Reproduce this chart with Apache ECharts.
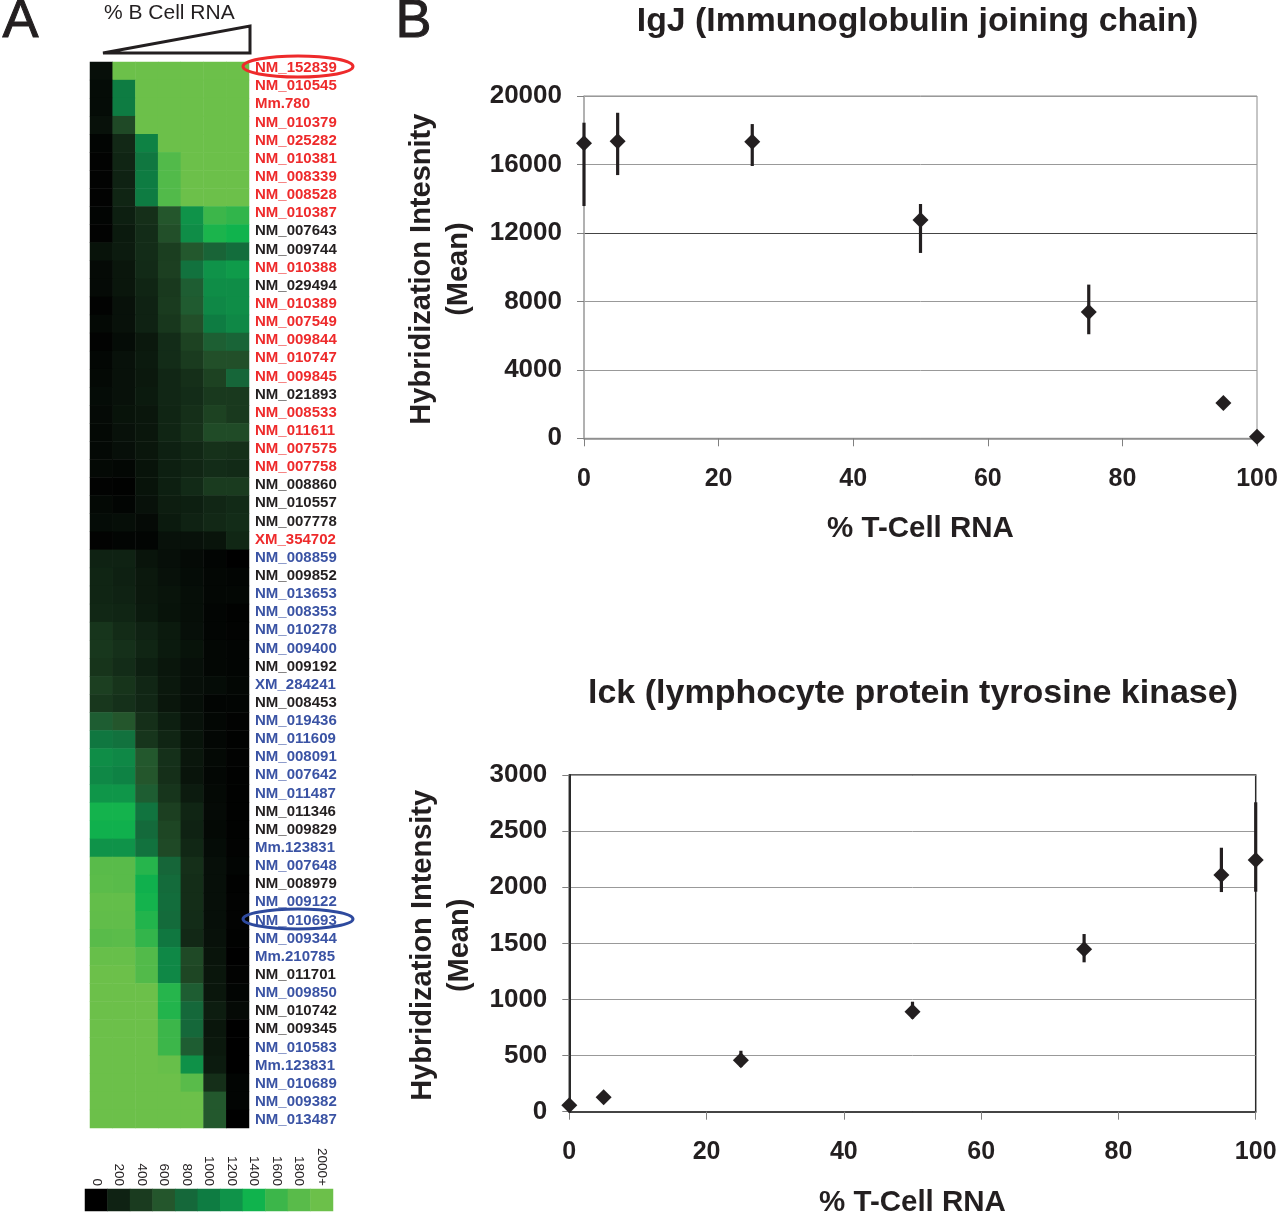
<!DOCTYPE html>
<html>
<head>
<meta charset="utf-8">
<style>html,body{margin:0;padding:0;background:#fff}#c{width:1280px;height:1213px}</style>
<script src="https://cdn.jsdelivr.net/npm/echarts@6/dist/echarts.min.js"></script>
</head>
<body>
<div id="c"></div>
<script>
// ---------- Panel A data ----------
const geneLabels = ['NM_152839','NM_010545','Mm.780','NM_010379','NM_025282','NM_010381','NM_008339','NM_008528','NM_010387','NM_007643','NM_009744','NM_010388','NM_029494','NM_010389','NM_007549','NM_009844','NM_010747','NM_009845','NM_021893','NM_008533','NM_011611','NM_007575','NM_007758','NM_008860','NM_010557','NM_007778','XM_354702','NM_008859','NM_009852','NM_013653','NM_008353','NM_010278','NM_009400','NM_009192','XM_284241','NM_008453','NM_019436','NM_011609','NM_008091','NM_007642','NM_011487','NM_011346','NM_009829','Mm.123831','NM_007648','NM_008979','NM_009122','NM_010693','NM_009344','Mm.210785','NM_011701','NM_009850','NM_010742','NM_009345','NM_010583','Mm.123831','NM_010689','NM_009382','NM_013487'];
const labelGroups = 'rrrrrrrrrkkrkrrrrrkrrrrkkkrbkbbbbkbkbbbbbkkbbkbbbbkbkkbbbbb';
const bCellLevels = ['0','5','25','50','75','95','100'];
const heatRows = [
[90,2000,2000,2000,2000,2000,2000],
[70,1000,2000,2000,2000,2000,2000],
[70,1000,2000,2000,2000,2000,2000],
[100,500,2000,2000,2000,2000,2000],
[30,250,1050,2000,2000,2000,2000],
[20,220,950,1750,2000,2000,2000],
[20,200,1000,1750,2000,2000,2000],
[20,220,1000,1750,2000,2000,2000],
[30,180,300,600,1200,1600,1550],
[20,150,280,550,1150,1450,1400],
[110,160,280,420,620,750,850],
[60,130,260,430,900,1200,1250],
[60,130,220,380,680,1150,1150],
[20,100,200,400,650,1100,1150],
[50,100,200,370,550,1000,1100],
[20,70,140,280,450,700,750],
[40,100,150,280,400,550,550],
[50,100,140,230,300,450,780],
[70,100,150,230,280,380,380],
[60,110,130,220,300,450,380],
[50,100,130,220,320,520,520],
[50,90,130,190,240,320,300],
[50,40,110,180,220,280,260],
[20,10,110,180,260,400,400],
[50,30,100,170,180,230,260],
[70,80,60,150,200,250,280],
[20,30,30,100,100,120,240],
[200,200,120,90,60,30,0],
[220,190,140,100,70,40,30],
[220,200,140,120,80,40,40],
[240,220,150,110,80,30,10],
[350,270,200,150,90,30,20],
[370,310,220,150,110,40,30],
[340,280,180,130,90,40,30],
[430,340,230,140,90,70,40],
[370,310,230,130,80,30,30],
[680,600,300,180,100,40,20],
[950,900,350,220,110,40,10],
[1150,1100,620,310,130,50,20],
[1100,1050,600,300,120,40,10],
[1220,1220,680,350,160,50,10],
[1420,1420,920,430,220,60,10],
[1380,1380,820,480,200,50,10],
[1200,1200,900,500,240,70,20],
[1800,1800,1500,780,300,90,30],
[1820,1800,1380,830,290,90,10],
[1900,1900,1420,850,290,90,20],
[1880,1880,1480,830,280,90,20],
[1800,1820,1560,950,250,100,10],
[1950,1950,1750,1100,500,120,0],
[2000,2000,1750,1100,480,130,20],
[2000,2000,2000,1500,680,130,30],
[2000,2000,2000,1480,800,170,60],
[2000,2000,2000,1600,800,130,0],
[2000,2000,2000,1600,680,140,0],
[2000,2000,2000,1950,1180,160,0],
[2000,2000,2000,2000,1800,300,30],
[2000,2000,2000,2000,2000,620,30],
[2000,2000,2000,2000,2000,620,0]
];
const scaleLabels = ['0','200','400','600','800','1000','1200','1400','1600','1800','2000+'];
const scaleValues = [0,200,400,600,800,1000,1200,1400,1600,1800,2000];
const scaleColors = ['#000000','#0f2213','#1a3b1f','#24562c','#15683a','#0e7c42','#0f9349','#10b34d','#3cb64a','#59bb4a','#6cc04a'];

// ---------- Panel B data ----------
const tCellPct = [0,5,25,50,75,95,100];
const igjMean = [17240,17350,17330,12750,7380,2060,90];
const igjHigh = [18440,19020,18360,13690,8980,2060,90];
const igjLow  = [13570,15380,15910,10830,6080,2060,90];
const lckMean = [57,128,458,891,1447,2109,2243];
const lckHigh = [57,128,543,980,1583,2352,2757];
const lckLow  = [57,128,400,830,1331,1957,1960];

const INK = '#231f20';
const FONT = '"Liberation Sans", Arial, sans-serif';
const groupColor = {r:'#ee2a2b', k:'#231f20', b:'#3a53a4'};

const heatData = [];
heatRows.forEach((row, r) => row.forEach((v, c) => heatData.push([c, r, v])));
const scaleData = scaleValues.map((v, i) => [i, 0, v]);

function errorSeries(xi, yi, low, high, width) {
  return {
    type: 'custom', xAxisIndex: xi, yAxisIndex: yi, clip: false, z: 3,
    data: tCellPct.map((x, i) => [x, low[i], high[i]]),
    encode: {x: 0, y: [1, 2]},
    renderItem(params, api) {
      const a = api.coord([api.value(0), api.value(1)]);
      const b = api.coord([api.value(0), api.value(2)]);
      return {type: 'line', shape: {x1: a[0], y1: a[1], x2: b[0], y2: b[1]},
        style: {stroke: INK, lineWidth: width, fill: null}};
    }
  };
}
function meanSeries(xi, yi, mean) {
  return {type: 'scatter', xAxisIndex: xi, yAxisIndex: yi, clip: false, z: 4,
    symbol: 'diamond', symbolSize: 16, itemStyle: {color: INK, opacity: 1},
    data: tCellPct.map((x, i) => [x, mean[i]])};
}
function xAxisPct(grid, lineColor, nameGap) {
  return {type: 'value', gridIndex: grid, min: 0, max: 100, interval: 20,
    name: '% T-Cell RNA', nameLocation: 'middle', nameGap,
    nameTextStyle: {fontFamily: FONT, fontWeight: 'bold', fontSize: 29.5, color: INK},
    axisLine: {show: true, lineStyle: {color: lineColor, width: 1.5}},
    axisTick: {show: true, length: 8, lineStyle: {color: '#808080', width: 1}},
    axisLabel: {fontFamily: FONT, fontWeight: 'bold', fontSize: 25, color: INK, margin: 28, showMinLabel: true, showMaxLabel: true},
    splitLine: {show: false}};
}
function yAxisVal(grid, max, interval, name, lineColor, lineWidth, splitColor, nameGap) {
  return {type: 'value', gridIndex: grid, min: 0, max, interval,
    name, nameLocation: 'middle', nameRotate: 90, nameGap,
    nameTextStyle: {fontFamily: FONT, fontWeight: 'bold', fontSize: 29, color: INK, lineHeight: 37, padding: [0, 4, 0, 0]},
    axisLine: {show: true, lineStyle: {color: lineColor, width: lineWidth}},
    axisTick: {show: true, length: 7, inside: false, lineStyle: {color: '#808080', width: 1}},
    axisLabel: {fontFamily: FONT, fontWeight: 'bold', fontSize: 26, color: INK, margin: 22, showMinLabel: true, showMaxLabel: true,
      formatter: v => String(v)},
    splitLine: {show: true, lineStyle: {color: splitColor, width: 1}}};
}

const option = {
  backgroundColor: '#fff',
  animation: false,
  textStyle: {fontFamily: FONT},
  title: [
    {text: 'IgJ (Immunoglobulin joining chain)', left: 912.5, top: 0, textAlign: 'center',
      textStyle: {fontFamily: FONT, fontWeight: 'bold', fontSize: 33.8, color: INK}},
    {text: 'lck (lymphocyte protein tyrosine kinase)', left: 908, top: 672, textAlign: 'center',
      textStyle: {fontFamily: FONT, fontWeight: 'bold', fontSize: 34, color: INK}}
  ],
  visualMap: {type: 'continuous', show: false, min: 0, max: 2000, seriesIndex: [0, 1],
    inRange: {color: scaleColors}},
  grid: [
    {left: 90, top: 62, width: 159, height: 1066, outerBoundsMode: 'none'},
    {left: 85, top: 1189, width: 248, height: 22, outerBoundsMode: 'none'},
    {left: 584, top: 96, width: 673, height: 342.3, show: true, backgroundColor: 'transparent', borderColor: '#8c8c8c', borderWidth: 1, outerBoundsMode: 'none'},
    {left: 569.3, top: 775, width: 686.4, height: 336.7, show: true, backgroundColor: 'transparent', borderColor: '#2a2a2a', borderWidth: 1.5, outerBoundsMode: 'none'},
    {left: 90, top: 59, width: 159, height: 1070, outerBoundsMode: 'none'}
  ],
  xAxis: [
    {type: 'category', gridIndex: 0, data: bCellLevels, show: false},
    {type: 'category', gridIndex: 1, data: scaleLabels, position: 'top',
      axisLine: {show: false}, axisTick: {show: false},
      axisLabel: {interval: 0, rotate: 90, margin: 3, fontFamily: FONT, fontSize: 13.5, color: INK, padding: [0, 0, 4, 0]}},
    xAxisPct(2, '#8c8c8c', 76),
    xAxisPct(3, '#2a2a2a', 76),
    {type: 'category', gridIndex: 4, data: bCellLevels, show: false}
  ],
  yAxis: [
    {type: 'category', gridIndex: 0, data: geneLabels, inverse: true, show: false},
    {type: 'category', gridIndex: 1, data: ['scale'], show: false},
    yAxisVal(2, 20000, 4000, 'Hybridization Intesnity\n(Mean)', '#aaaaaa', 1.5,
      ['#999999','#999999','#999999','#444444','#999999','#999999'], 107),
    yAxisVal(3, 3000, 500, 'Hybridization Intensity\n(Mean)', '#2a2a2a', 2, '#999999', 91),
    {type: 'category', gridIndex: 4, data: geneLabels, inverse: true, position: 'right',
      axisLine: {show: false}, axisTick: {show: false}, splitLine: {show: false},
      axisLabel: {interval: 0, margin: 6, fontFamily: FONT, fontSize: 15, fontWeight: 'bold',
        color: (v, i) => groupColor[labelGroups[i]]}}
  ],
  series: [
    {type: 'heatmap', xAxisIndex: 0, yAxisIndex: 0, data: heatData, itemStyle: {borderWidth: 0}},
    {type: 'heatmap', xAxisIndex: 1, yAxisIndex: 1, data: scaleData, itemStyle: {borderWidth: 0}},
    errorSeries(2, 2, igjLow, igjHigh, 3.2),
    meanSeries(2, 2, igjMean),
    errorSeries(3, 3, lckLow, lckHigh, 3.2),
    meanSeries(3, 3, lckMean)
  ],
  graphic: [
    {type: 'text', left: 2, top: -5, style: {text: 'A', font: '54px "Liberation Sans"', fill: INK, stroke: INK, lineWidth: 1}},
    {type: 'text', left: 395, top: -5, style: {text: 'B', font: '54px "Liberation Sans"', fill: INK, stroke: INK, lineWidth: 1}},
    {type: 'text', left: 104, top: 3, style: {text: '% B Cell RNA', font: '21px "Liberation Sans"', fill: INK}},
    {type: 'polygon', shape: {points: [[103,53],[250,26],[250,53]]},
      style: {fill: 'none', stroke: INK, lineWidth: 3}},
    {type: 'ellipse', shape: {cx: 298, cy: 66.5, rx: 55, ry: 10.5}, z: 10,
      style: {fill: 'none', stroke: '#ee2a2b', lineWidth: 3}},
    {type: 'ellipse', shape: {cx: 298, cy: 919, rx: 55, ry: 10}, z: 10,
      style: {fill: 'none', stroke: '#2e4a9e', lineWidth: 3}}
  ]
};
echarts.init(document.getElementById('c'), null, {renderer: 'canvas'}).setOption(option);
</script>
</body>
</html>
